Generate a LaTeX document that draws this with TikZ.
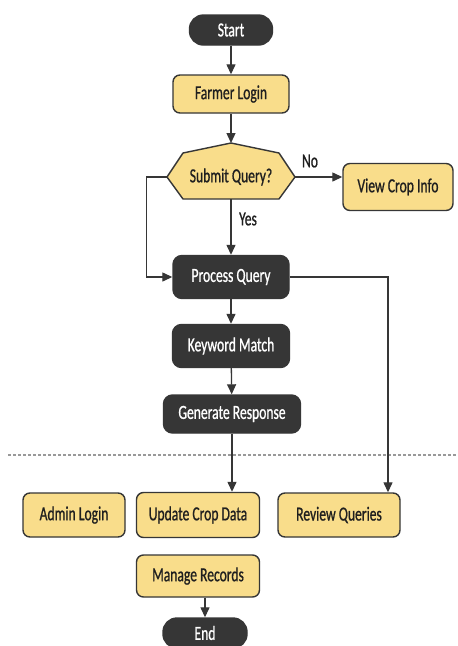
\documentclass[tikz,border=0pt]{standalone}
\usepackage{fontspec}
\setmainfont{Carlito}[FakeStretch=0.68,FakeBold=0.8]
\usetikzlibrary{arrows.meta}
\definecolor{pale}{HTML}{F9DD8B}
\definecolor{ink}{HTML}{363636}
\begin{document}
\begin{tikzpicture}[x=1pt,y=-1pt,
  txt/.style={font=\fontsize{20}{22}\selectfont},
  box/.style={txt, draw=ink, line width=1.4pt, rounded corners=7pt, fill=pale, text=black!88, inner sep=0pt},
  dark/.style={txt, draw=ink, line width=1.4pt, rounded corners=9pt, fill=ink, text=white, inner sep=0pt},
  term/.style={dark, rounded corners=14pt},
  link/.style={draw=ink, line width=1.3pt, -{Triangle[length=10pt,width=9pt]}},
  lbl/.style={txt, text=black!88, inner sep=0pt}
]
\fill[white] (0,0) rectangle (458,646);
\useasboundingbox (0,0) rectangle (458,646);

% decision outline (hexagon with a raised top centre)
\draw[draw=ink, line width=1.4pt, fill=pale, line join=round]
  (167,177) -- (183,153) -- (231,143) -- (279,153) -- (295,177) -- (279,199) -- (183,199) -- cycle;

% main column
\node[term, minimum width=83pt, minimum height=30pt] (start) at (231,30) {Start};
\node[box, minimum width=116pt, minimum height=38pt] (farmer) at (231,94) {Farmer Login};
\node[lbl, minimum width=128pt, minimum height=44pt] (query) at (231,177) {Submit Query?};
\coordinate (qtop) at (231,143);
\node[box, minimum width=110pt, minimum height=47pt] (crop) at (398,187) {View Crop Info};
\node[dark, minimum width=116pt, minimum height=43pt] (proc) at (231,277) {Process Query};
\node[dark, minimum width=117pt, minimum height=43pt] (match) at (231,346) {Keyword Match};
\node[dark, minimum width=137pt, minimum height=38pt] (resp) at (232,414) {Generate Response};

% separator
\draw[gray!80, line width=1.1pt, dash pattern=on 3pt off 2pt] (8,455) -- (458,455);

% admin lane
\node[box, minimum width=102pt, minimum height=44pt] (admin) at (74,515) {Admin Login};
\node[box, minimum width=123pt, minimum height=45pt] (update) at (198,515) {Update Crop Data};
\node[box, minimum width=122pt, minimum height=44pt] (review) at (339,515) {Review Queries};
\node[box, minimum width=123pt, minimum height=42pt] (manage) at (198,576) {Manage Records};
\node[term, minimum width=84pt, minimum height=30pt] (end) at (205,633) {End};

% connectors
\draw[link] (start) -- (farmer);
\draw[link] (farmer) -- (qtop);
\draw[link] (query.east) -- (query.east -| crop.west);
\node[lbl] (no) at (310,161) {No};
\draw[link] (query.south) -- (proc.north);
\node[lbl] (yes) at (248,219) {Yes};
\draw[link] (query.west) -- ++(-20,0) |- (proc.west);
\draw[link] (proc) -- (match);
\draw[link] (match) -- (resp);
\draw[link] (resp.south) -- (resp.south |- update.north);
\coordinate (bend) at (388,277);
\draw[link] (proc.east) -- (bend) -- (bend |- review.north);
\draw[link] (end.north |- manage.south) -- (end.north);
\end{tikzpicture}
\end{document}
